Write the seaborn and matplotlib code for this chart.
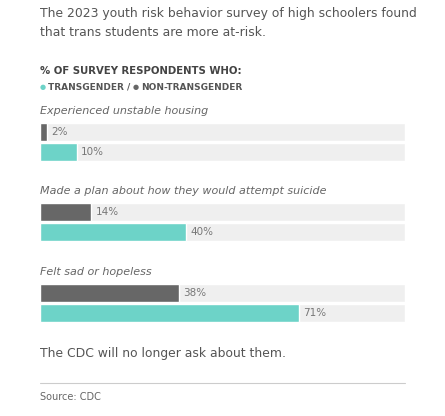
import pandas as pd
import matplotlib.pyplot as plt
import seaborn as sns

questions = ["Experienced unstable housing",
             "Made a plan about how they would attempt suicide",
             "Felt sad or hopeless"]
non_trans = [2, 14, 38]
trans = [10, 40, 71]

TEAL = "#6dd3c8"
DARK = "#676767"
BG = "#efefef"
TXT = "#555555"

sns.set_style("white")
plt.rcParams['font.family'] = ['DejaVu Sans']
fig = plt.figure(figsize=(4.45, 4.16), dpi=100)

tops = [122, 202, 283]
for q, nt, t, top in zip(questions, non_trans, trans, tops):
    df = pd.DataFrame({"group": ["Non-transgender", "Transgender"], "value": [nt, t],
                       "full": [100, 100]})
    ax = fig.add_axes([40 / 445, 1 - (top + 40) / 416, 365 / 445, 40 / 416])
    sns.barplot(data=df, y="group", x="full", color=BG, width=0.9, ax=ax, orient="h",
                saturation=1)
    sns.barplot(data=df, y="group", x="value", hue="group", saturation=1,
                palette=[DARK, TEAL], width=0.9, ax=ax, orient="h", legend=False)
    ax.set_xlim(0, 100)
    ax.axis("off")
    for i, v in enumerate([nt, t]):
        ax.text(v + 1.2, i, f"{v}%", va="center", ha="left", fontsize=7.5, color="#777777")
    fig.text(40 / 445, 1 - (top - 11) / 416, q, fontsize=8, style="italic",
             color="#666666", va="center")

fig.text(40 / 445, 1 - 14 / 416, "The 2023 youth risk behavior survey of high schoolers found",
         fontsize=8.9, color=TXT, va="center")
fig.text(40 / 445, 1 - 32 / 416, "that trans students are more at-risk.",
         fontsize=8.9, color=TXT, va="center")
fig.text(40 / 445, 1 - 71 / 416, "% OF SURVEY RESPONDENTS WHO:", fontsize=7.3,
         weight="bold", color="#444444", va="center")
fig.text(40 / 445, 1 - 87 / 416, "●", fontsize=5, color=TEAL, va="center")
fig.text(48 / 445, 1 - 87 / 416, "TRANSGENDER /", fontsize=6.5, weight="bold",
         color="#555555", va="center")
fig.text(133 / 445, 1 - 87 / 416, "●", fontsize=5, color=DARK, va="center")
fig.text(141 / 445, 1 - 87 / 416, "NON-TRANSGENDER", fontsize=6.5, weight="bold",
         color="#555555", va="center")
fig.text(40 / 445, 1 - 353 / 416, "The CDC will no longer ask about them.",
         fontsize=8.9, color=TXT, va="center")
fig.add_artist(plt.Line2D([40 / 445, 405 / 445], [1 - 383 / 416] * 2,
                          color="#cccccc", lw=0.8, transform=fig.transFigure))
fig.text(40 / 445, 1 - 397 / 416, "Source: CDC", fontsize=7, color="#666666", va="center")

fig.savefig("out.png", dpi=100, facecolor="white")
